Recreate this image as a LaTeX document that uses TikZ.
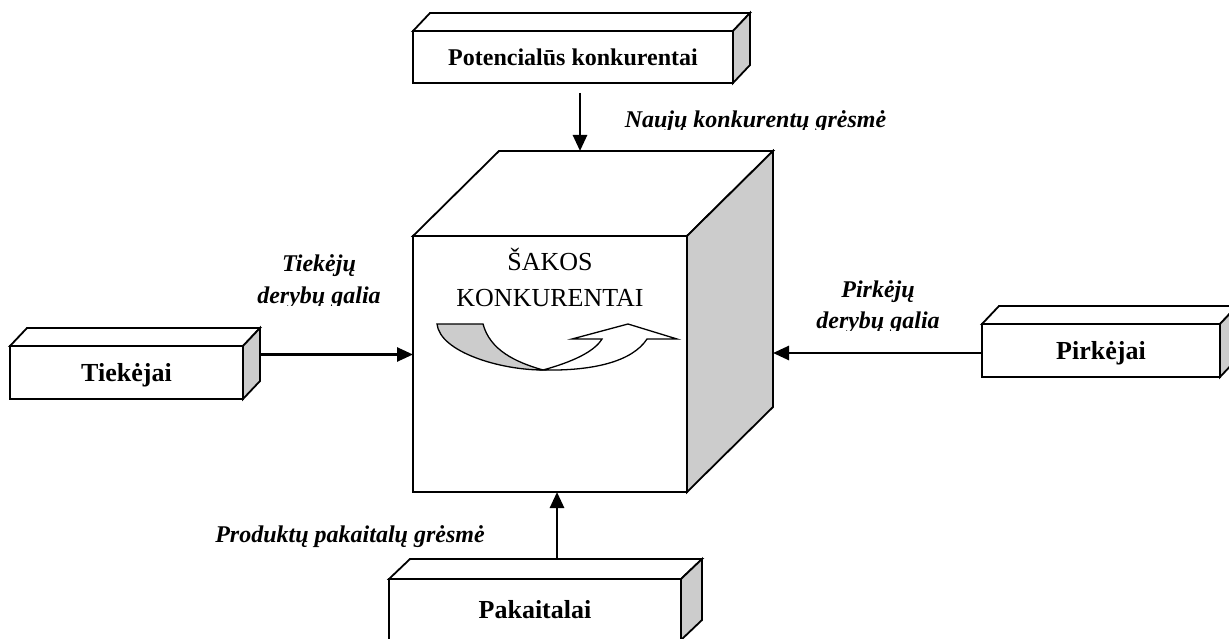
\documentclass[tikz,border=0pt]{standalone}
\usepackage{fontspec}
\setmainfont{Liberation Serif}
\usetikzlibrary{arrows.meta,calc}

\tikzset{
  face/.style={draw, line width=1.8pt, fill=white, inner sep=0pt, outer sep=0pt,
    text depth=0pt, font=\bfseries\fontsize{26}{30}\selectfont},
  lid/.style={draw, line width=1.8pt, fill=white, line join=miter},
  flank/.style={draw, line width=1.8pt, fill=black!20, line join=miter},
  flow/.style={line width=2.6pt, -{Triangle[length=16pt,width=14pt]}},
  cue/.style={font=\bfseries\itshape\fontsize{24}{30}\selectfont, inner sep=0pt, anchor=base},
  title/.style={font=\fontsize{26}{30}\selectfont, inner sep=0pt, anchor=base},
  swirl/.style={draw, line width=1.3pt, line join=miter},
}

% top and right faces of a slab whose front face is the node #1
\newcommand\slabfaces[3]{%
  \path[lid] (#1.north west) -- ++(#2,-#3) -- ($(#1.north east)+(#2,-#3)$)
     -- (#1.north east) -- cycle;
  \path[flank] (#1.north east) -- ++(#2,-#3) -- ($(#1.south east)+(#2,-#3)$)
     -- (#1.south east) -- cycle;}

\begin{document}
\begin{tikzpicture}[x=1pt,y=-1pt]
\useasboundingbox (0,0) rectangle (1229,639);
\fill[white] (0,0) rectangle (1229,639);
\clip (0,0) rectangle (1229,639);

% central cube
\node[face, minimum width=274pt, minimum height=256pt] (cube) at (550,364) {};
\slabfaces{cube}{86}{85}
\node[title] (sakos) at (550,270) {ŠAKOS};
\node[title] (konk) at (550,306) {KONKURENTAI};

% curved rivalry arrow on the front face
\path[swirl, fill=black!20] (437,324) -- (483,324)
  .. controls (490,350) and (515,362) .. (543,370)
  .. controls (500,370) and (440,352) .. (437,324) -- cycle;
\path[swirl, fill=white] (543,370)
  .. controls (572,362) and (594,352) .. (602,339)
  -- (572,339) -- (628,324) -- (677,339) -- (647,339)
  .. controls (632,362) and (592,371) .. (543,370) -- cycle;

% outer slabs
\node[face, font=\bfseries\fontsize{24}{30}\selectfont, minimum width=320pt, minimum height=52pt] (pot) at (573,57) {Potencialūs konkurentai};
\slabfaces{pot}{17}{18}
\node[face, minimum width=233pt, minimum height=53pt] (tiek) at (126.5,372.5) {Tiekėjai};
\slabfaces{tiek}{17}{18}
\node[face, minimum width=238pt, minimum height=53pt] (pirk) at (1101,350.5) {Pirkėjai};
\slabfaces{pirk}{17}{18}
\node[face, minimum width=292pt, minimum height=61pt] (pak) at (535,609.5) {Pakaitalai};
\slabfaces{pak}{21}{20}

% connector end points
\coordinate (topin) at ($(cube.north)+(30,-85)$);
\coordinate (tiekout) at ($(tiek.east)+(17,-18)$);
\coordinate (pirkin) at ($(pirk.west)+(0,2.5)$);
\coordinate (cubeback) at ($(cube.east)+(86,0)$);
\coordinate (pakout) at ($(pak.north)+(22,-20)$);

\draw[flow, shorten <=10pt] (pot.south -| topin) -- (topin);
\draw[flow] (tiekout) -- (tiekout -| cube.west);
\draw[flow] (pirkin) -- (pirkin -| cubeback);
\draw[flow] (pakout) -- (pakout |- cube.south);

% force labels
\begin{scope}
  \clip (600,90) rectangle (920,130);
  \node[cue] (newcomers) at (755.5,128) {Naujų konkurentų grėsmė};
\end{scope}
\node[cue] (supp1) at (319,272) {Tiekėjų};
\begin{scope}
  \clip (200,280) rectangle (420,305);
  \node[cue] (supp2) at (319,303) {derybų galia};
\end{scope}
\node[cue] (buy1) at (878,298) {Pirkėjų};
\begin{scope}
  \clip (780,305) rectangle (980,330);
  \node[cue] (buy2) at (878,328) {derybų galia};
\end{scope}
\node[cue] (subst) at (350,542) {Produktų pakaitalų grėsmė};
\end{tikzpicture}
\end{document}
